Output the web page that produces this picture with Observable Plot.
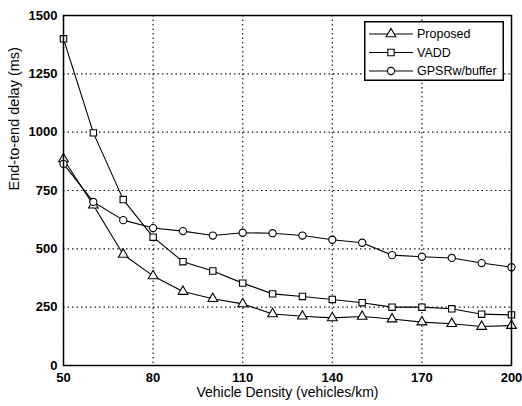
<!DOCTYPE html>
<html>
<head>
<meta charset="utf-8">
<script src="https://cdn.jsdelivr.net/npm/d3@7"></script>
<script src="https://cdn.jsdelivr.net/npm/@observablehq/plot@0.6"></script>
<style>
  html, body { margin: 0; padding: 0; background: #fff; }
  #wrap { position: relative; width: 522px; height: 406px; }
  #legend { position: absolute; left: 364px; top: 21px; }
</style>
</head>
<body>
<div id="wrap"></div>
<script>
const density = [50, 60, 70, 80, 90, 100, 110, 120, 130, 140, 150, 160, 170, 180, 190, 200];
const proposed = [885, 687, 476, 384, 317, 286, 264, 221, 211, 204, 210, 199, 186, 179, 167, 171];
const vadd = [1400, 997, 711, 550, 445, 405, 353, 307, 296, 283, 269, 250, 250, 243, 220, 217];
const gpsr = [864, 701, 623, 589, 576, 557, 569, 567, 557, 539, 526, 473, 466, 461, 439, 421];
const seriesNames = ["Proposed", "VADD", "GPSRw/buffer"];
const seriesSymbols = ["triangle", "square", "circle"];
const xTicks = [50, 80, 110, 140, 170, 200];
const yTicks = [0, 250, 500, 750, 1000, 1250, 1500];

const seriesValues = [proposed, vadd, gpsr];
const data = [];
seriesNames.forEach((name, i) => {
  density.forEach((d, j) => data.push({series: name, x: d, y: seriesValues[i][j]}));
});

const chart = Plot.plot({
  width: 522,
  height: 406,
  marginLeft: 63,
  marginRight: 11,
  marginTop: 15,
  marginBottom: 41,
  style: {fontFamily: "'Liberation Sans', Arial, sans-serif", fontSize: "13px", color: "#000", background: "#fff"},
  x: {domain: [50, 200]},
  y: {domain: [0, 1500]},
  symbol: {domain: seriesNames, range: seriesSymbols},
  marks: [
    Plot.gridX(xTicks, {stroke: "#000", strokeOpacity: 0.9, strokeDasharray: "1.5,3", strokeWidth: 1.2}),
    Plot.gridY(yTicks, {stroke: "#000", strokeOpacity: 0.9, strokeDasharray: "1.5,3", strokeWidth: 1.2}),
    Plot.line(data, {x: "x", y: "y", z: "series", stroke: "#000", strokeWidth: 1.1}),
    Plot.dot(data, {x: "x", y: "y", symbol: "series", stroke: "#000", fill: "#fff", r: 3.6, strokeWidth: 1.1}),
    Plot.frame({stroke: "#000", strokeWidth: 1.5}),
    Plot.axisX(xTicks, {tickSize: 0, tickPadding: 7, fontWeight: "bold", fontSize: 13, tickFormat: d => String(d),
      label: null}),
    Plot.axisY(yTicks, {tickSize: 0, tickPadding: 6, fontWeight: "bold", fontSize: 13, tickFormat: d => String(d),
      label: null}),
    Plot.text(["Vehicle Density (vehicles/km)"], {frameAnchor: "bottom", dy: 31, lineAnchor: "bottom",
      fontSize: 14, fill: "#000"}),
    Plot.text(["End-to-end delay (ms)"], {frameAnchor: "left", dx: -55, rotate: -90, lineAnchor: "top",
      fontSize: 14.5, fill: "#000"})
  ]
});
document.getElementById("wrap").appendChild(chart);

// Legend
const lw = 140, lh = 60;
const legend = d3.select("#wrap").append("svg")
  .attr("id", "legend").attr("width", lw).attr("height", lh)
  .style("font-family", "'Liberation Sans', Arial, sans-serif");
legend.append("rect").attr("x", 0.75).attr("y", 0.75).attr("width", lw - 1.5).attr("height", lh - 1.5)
  .attr("fill", "#fff").attr("stroke", "#000").attr("stroke-width", 1.5);
const symMap = {triangle: d3.symbolTriangle, square: d3.symbolSquare, circle: d3.symbolCircle};
seriesNames.forEach((name, i) => {
  const cy = 13 + i * 18.5;
  legend.append("line").attr("x1", 5).attr("x2", 49).attr("y1", cy).attr("y2", cy)
    .attr("stroke", "#000").attr("stroke-width", 1.1);
  legend.append("path").attr("transform", `translate(27,${cy})`)
    .attr("d", d3.symbol(symMap[seriesSymbols[i]], 3.6 * 3.6 * Math.PI)())
    .attr("fill", "#fff").attr("stroke", "#000").attr("stroke-width", 1.1);
  legend.append("text").attr("x", 53).attr("y", cy).attr("dy", "0.35em")
    .attr("font-size", 12.5).text(name);
});
</script>
</body>
</html>
